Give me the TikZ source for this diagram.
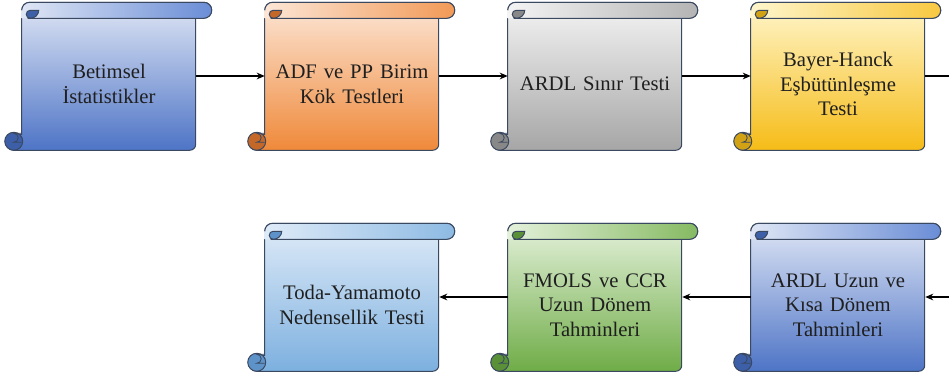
\documentclass[tikz,border=0pt]{standalone}
\usepackage{fontspec}
\setmainfont{Liberation Serif}
\usetikzlibrary{arrows.meta,calc,backgrounds}

\definecolor{edge}{HTML}{3A4860}
% fills: top, bottom, roll end, curls
\definecolor{blutop}{HTML}{DFE6F5}
\definecolor{blubot}{HTML}{4E74C6}
\definecolor{bluroll}{HTML}{6A8DD6}
\definecolor{bludark}{HTML}{3D5FA8}
\definecolor{orgtop}{HTML}{FCE6D6}
\definecolor{orgbot}{HTML}{EF893A}
\definecolor{orgroll}{HTML}{F29A57}
\definecolor{orgdark}{HTML}{C4682A}
\definecolor{grytop}{HTML}{F4F4F4}
\definecolor{grybot}{HTML}{A6A6A6}
\definecolor{gryroll}{HTML}{B4B4B4}
\definecolor{grydark}{HTML}{888888}
\definecolor{ylwtop}{HTML}{FFF6CC}
\definecolor{ylwbot}{HTML}{F6BC17}
\definecolor{ylwroll}{HTML}{F8C840}
\definecolor{ylwdark}{HTML}{D2A215}
\definecolor{grntop}{HTML}{E4F1DB}
\definecolor{grnbot}{HTML}{6FAC47}
\definecolor{grnroll}{HTML}{86BA62}
\definecolor{grndark}{HTML}{5A9038}
\definecolor{skytop}{HTML}{DFEBF8}
\definecolor{skybot}{HTML}{7DB0DF}
\definecolor{skyroll}{HTML}{8DBAE3}
\definecolor{skydark}{HTML}{5D93C8}

\tikzset{
  box/.style={minimum width=130.5pt, minimum height=99pt, text width=125pt,
    align=center, inner sep=0pt, font=\fontsize{15.5}{18.5}\selectfont, text=black!88},
  flow/.style={line width=1.1pt, -{Stealth[length=6pt,width=5pt]}},
  scrolledge/.style={draw=edge, line width=0.75pt},
}

% scroll behind a node, in px, origin at the node's south west
\newcommand\scrollbg[2]{%
  \begin{scope}[on background layer, shift={(#1.south west)}]
    \path[scrolledge, top color=#2top, bottom color=#2bot]
      (0,16) -- (0,140) arc[start angle=180, end angle=90, radius=8]
      -- (182,148) arc[start angle=90, end angle=-90, radius=8]
      -- (174,132) -- (174,6) arc[start angle=0, end angle=-90, radius=6]
      -- (-8,0) arc[start angle=270, end angle=90, radius=8] -- cycle;
    % top roll
    \path[left color=#2top, right color=#2roll]
      (0,132) -- (0,140) arc[start angle=180, end angle=90, radius=8]
      -- (182,148) arc[start angle=90, end angle=-90, radius=8] -- cycle;
    \draw[scrolledge] (0,140) arc[start angle=180, end angle=90, radius=8]
      -- (182,148) arc[start angle=90, end angle=-90, radius=8] -- (6,132);
    \path[scrolledge, fill=#2dark]
      (17,140) arc[start angle=0, end angle=-90, x radius=8.5, y radius=8]
      arc[start angle=270, end angle=90, radius=4] -- cycle;
    % curl at the foot
    \path[scrolledge, fill=#2dark] (-8,9) circle[radius=9];
    \draw[edge, line width=0.6pt] (0,17) -- (-8,17)
      arc[start angle=90, end angle=-90, radius=4.5] -- (0,8);
  \end{scope}}

\begin{document}
\begin{tikzpicture}[x=0.75pt,y=0.75pt]
\useasboundingbox (0,0) rectangle (949,376);
\clip (0,0) rectangle (949,376);

\node[box] (betimsel) at (109,292) {Betimsel\\İstatistikler};
\node[box] (birimkok) at (352,292) {ADF ve PP Birim\\Kök Testleri};
\node[box] (ardl) at (595,292) {ARDL Sınır Testi};
\node[box] (bayer) at (838,292) {Bayer-Hanck\\Eşbütünleşme\\Testi};
\node[box] (uzunkisa) at (838,71) {ARDL Uzun ve\\Kısa Dönem\\Tahminleri};
\node[box] (fmols) at (595,71) {FMOLS ve CCR\\Uzun Dönem\\Tahminleri};
\node[box] (toda) at (352,71) {Toda-Yamamoto\\Nedensellik Testi};

\scrollbg{betimsel}{blu}
\scrollbg{birimkok}{org}
\scrollbg{ardl}{gry}
\scrollbg{bayer}{ylw}
\scrollbg{uzunkisa}{blu}
\scrollbg{fmols}{grn}
\scrollbg{toda}{sky}

\draw[flow] ($(betimsel.east)+(0,8)$) -- ($(birimkok.west)+(0,8)$);
\draw[flow] ($(birimkok.east)+(0,8)$) -- ($(ardl.west)+(0,8)$);
\draw[flow] ($(ardl.east)+(0,8)$) -- ($(bayer.west)+(0,8)$);
\draw[flow] ($(bayer.east)+(0,8)$) -- ++(60,0) |- ($(uzunkisa.east)+(0,8)$);
\draw[flow] ($(uzunkisa.west)+(0,8)$) -- ($(fmols.east)+(0,8)$);
\draw[flow] ($(fmols.west)+(0,8)$) -- ($(toda.east)+(0,8)$);
\end{tikzpicture}
\end{document}
